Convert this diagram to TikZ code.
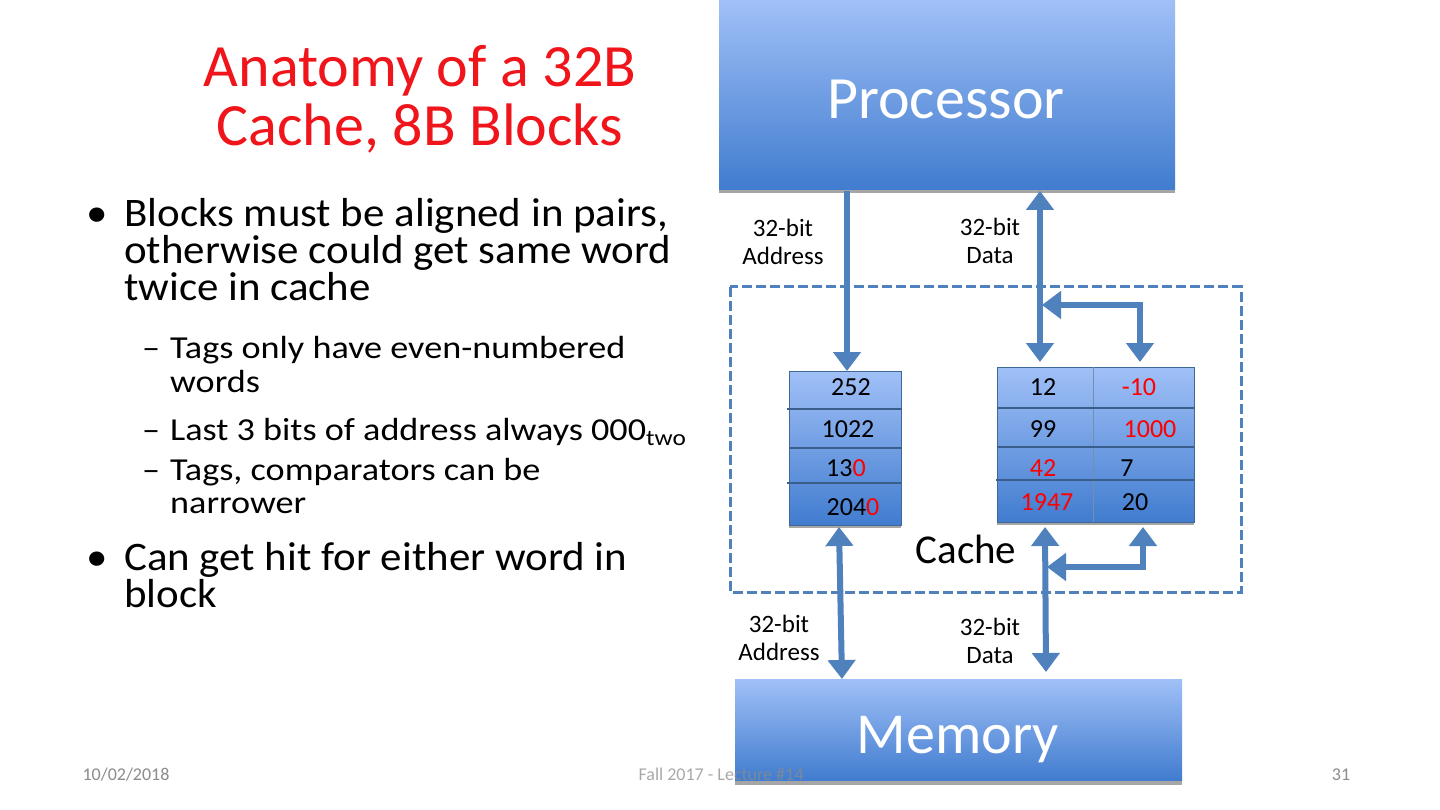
\documentclass[tikz,border=0pt]{standalone}
\usepackage{fontspec}
\setmainfont{Carlito}
\newfontfamily\bodyfont{Carlito}[FakeStretch=1.06]
\newfontfamily\subfont{Carlito}[FakeStretch=1.13]
\usetikzlibrary{arrows.meta}
\definecolor{busblue}{HTML}{4F81BD}
\definecolor{boxtop}{HTML}{A0C0F7}
\definecolor{boxbot}{HTML}{417CCF}
\definecolor{titlered}{HTML}{F0141B}
\definecolor{sepline}{HTML}{3A5E8C}
\definecolor{footgray}{HTML}{8C8C8C}
\definecolor{shadowgray}{HTML}{A6A6A6}
\begin{document}
\begin{tikzpicture}[x=1pt,y=-1pt,
  bigbox/.style={rectangle, draw=none, top color=boxtop, bottom color=boxbot, text=white, inner sep=0pt},
  bigtext/.style={text=white, inner sep=0pt, anchor=base},
  arr/.style={rectangle, draw=busblue!80!black, line width=0.6pt, top color=boxtop, bottom color=boxbot, inner sep=0pt},
  sep/.style={draw=sepline, line width=2.2pt},
  cell/.style={font=\fontsize{26}{28}\selectfont, inner sep=0pt, anchor=base},
  bus/.style={draw=busblue, line width=6pt, -{Triangle[width=27pt,length=19pt]}},
  dbus/.style={draw=busblue, line width=6pt, {Triangle[width=27pt,length=19pt]}-{Triangle[width=27pt,length=19pt]}},
  lbl/.style={font=\fontsize{25}{28}\selectfont, align=center, inner sep=0pt},
  body/.style={font=\bodyfont\fontsize{40.5}{44}\selectfont, anchor=base west, inner sep=0pt},
  sub/.style={font=\subfont\fontsize{32}{36}\selectfont, anchor=base west, inner sep=0pt},
  foot/.style={font=\fontsize{18}{20}\selectfont, text=footgray, inner sep=0pt, anchor=base}
]
\useasboundingbox (0,0) rectangle (1440,810);
\fill[white] (0,0) rectangle (1440,810);

% title
\node[font=\fontsize{60}{59}\selectfont, text=titlered, align=center, inner sep=0pt, anchor=base] (title) at (420,146)
  {Anatomy of a 32B\\Cache, 8B Blocks};

% bullets
\node[body] (b1) at (86,227) {\textbullet};
\node[body] (l1) at (124,227) {Blocks must be aligned in pairs,};
\node[body] (l2) at (124,264) {otherwise could get same word};
\node[body] (l3) at (124,301) {twice in cache};
\node[sub] (d1) at (142,358) {–};
\node[sub] (s1) at (170,358) {Tags only have even-numbered};
\node[sub] (s1b) at (170,392) {words};
\node[sub] (d2) at (142,440) {–};
\node[sub] (s2) at (170,440) {Last 3 bits of address always 000\textsubscript{two}};
\node[sub] (d3) at (142,480) {–};
\node[sub] (s3) at (170,480) {Tags, comparators can be};
\node[sub] (s3b) at (170,513) {narrower};
\node[body] (b2) at (86,570) {\textbullet};
\node[body] (l4) at (124,570) {Can get hit for either word in};
\node[body] (l5) at (124,607) {block};

% processor
\fill[shadowgray] (719,187) rectangle (1175,193);
\node[bigbox, minimum width=456pt, minimum height=189pt, anchor=north west] (proc) at (719,0) {};
\node[bigtext, font=\fontsize{60}{64}\selectfont] (proct) at (946,119) {Processor};

% cache dashed box
\draw[busblue, line width=3pt, dash pattern=on 10pt off 4pt] (730,287) rectangle (1241,592);
\node[font=\fontsize{41}{44}\selectfont, inner sep=0pt, anchor=base] (cache) at (966,563) {Cache};

% tag array
\fill[shadowgray] (789,524) rectangle (901,528);
\node[arr, minimum width=112pt, minimum height=154pt, anchor=north west] (tags) at (789,371) {};
\draw[sep] (787,409) -- (902,409);
\draw[sep] (789,448) -- (901,448);
\draw[sep] (787,483) -- (901,483);
\node[cell] (t1) at (851,395) {252};
\node[cell] (t2) at (848,437) {1022};
\node[cell] (t3) at (846,476) {13\textcolor{red}{0}};
\node[cell] (t4) at (853,515) {204\textcolor{red}{0}};

% data array
\fill[shadowgray] (997,520) rectangle (1194,525);
\node[arr, minimum width=197pt, minimum height=155pt, anchor=north west] (data) at (997,367) {};
\draw[draw=sepline!70, line width=1pt] (1093,367) -- (1093,522);
\draw[sep] (997,408) -- (1194,408);
\draw[sep] (997,447) -- (1194,447);
\draw[sep] (996,480) -- (1194,480);
\node[cell] (v11) at (1043,395) {12};
\node[cell, text=red] (v12) at (1139,395) {-10};
\node[cell] (v21) at (1043,437) {99};
\node[cell, text=red] (v22) at (1150,437) {1000};
\node[cell, text=red] (v31) at (1043,476) {42};
\node[cell] (v32) at (1127,476) {7};
\node[cell, text=red] (v41) at (1047,510) {1947};
\node[cell] (v42) at (1135,510) {20};

% memory
\fill[shadowgray] (735,779) rectangle (1182,785);
\node[bigbox, minimum width=447pt, minimum height=101pt, anchor=north west] (mem) at (735,679) {};
\node[bigtext, font=\fontsize{58}{62}\selectfont] (memt) at (958,753) {Memory};

% footer (drawn over the memory box, as in the reference)
\node[foot] (fdate) at (126,780) {10/02/2018};
\node[foot, opacity=0.75] (fcourse) at (721,780) {Fall 2017 - Lecture \#14};
\node[foot] (fpage) at (1341,780) {31};

% labels
\node[lbl] (la1) at (783,242) {32-bit\\Address};
\node[lbl] (la2) at (990,241) {32-bit\\Data};
\node[lbl] (la3) at (779,638) {32-bit\\Address};
\node[lbl] (la4) at (990,641) {32-bit\\Data};

% buses
\coordinate (pa) at (847,191);
\coordinate (ta) at (847,371);
\draw[bus] (pa) -- (ta);
\coordinate (pd) at (1040,191);
\coordinate (dd) at (1040,362);
\draw[dbus] (pd) -- (dd);
\coordinate (j1) at (1042,305);
\coordinate (k1) at (1140,305);
\coordinate (e1) at (1140,362);
\draw[dbus] (j1) -- (k1) -- (e1);

\coordinate (tb) at (839,527);
\coordinate (ma) at (842,679);
\draw[dbus] (tb) -- (ma);
\coordinate (db) at (1045,527);
\coordinate (md) at (1046,672);
\draw[dbus] (db) -- (md);
\coordinate (e2) at (1143,527);
\coordinate (k2) at (1143,567);
\coordinate (j2) at (1047,567);
\draw[dbus] (e2) -- (k2) -- (j2);
\end{tikzpicture}
\end{document}
